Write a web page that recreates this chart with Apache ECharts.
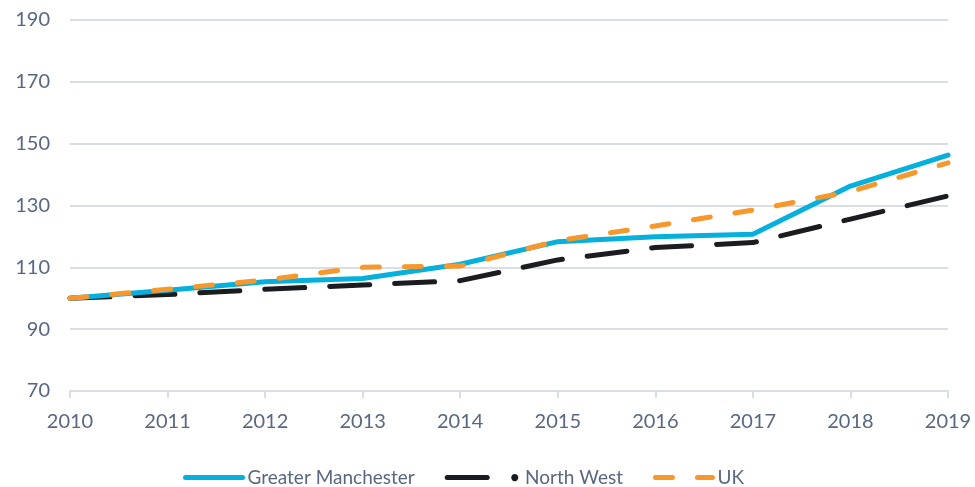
<!DOCTYPE html>
<html>
<head>
<meta charset="utf-8">
<script src="https://cdn.jsdelivr.net/npm/echarts@6/dist/echarts.min.js"></script>
<style>html,body{margin:0;padding:0;background:#fff;}#c{width:975px;height:487px;}</style>
</head>
<body>
<div id="c"></div>
<script>
var years = ['2010','2011','2012','2013','2014','2015','2016','2017','2018','2019'];
var greaterManchester = [100, 102.6, 105.3, 106.4, 111, 118.3, 119.9, 120.7, 136.3, 146.3];
var northWest = [100, 101.2, 102.9, 104.3, 105.7, 112.4, 116.4, 118, 125.6, 133.1];
var uk = [100, 102.9, 105.9, 110, 110.4, 118.6, 123.4, 128.5, 134.5, 143.8];

var textColor = '#596780';
var gridColor = '#d9dde6';
var fontFamily = 'Lato, "Open Sans", sans-serif';

var chart = echarts.init(document.getElementById('c'));
chart.setOption({
  animation: false,
  textStyle: {fontFamily: fontFamily},
  grid: {left: 70, right: 27, top: 20, bottom: 96},
  legend: {
    left: 178, top: 463,
    itemWidth: 57, itemHeight: 10, itemGap: 30,
    itemStyle: {opacity: 0},
    lineStyle: {width: 5, cap: 'round'},
    textStyle: {color: textColor, fontSize: 19, fontFamily: fontFamily,
      rich: {b: {color: '#1b1c20', fontSize: 19, fontFamily: fontFamily}}},
    formatter: function (n) { return n === 'North West' ? '{b|•} North West' : n; },
    data: ['Greater Manchester', 'North West', 'UK']
  },
  xAxis: {
    type: 'category', data: years, boundaryGap: false,
    axisLine: {lineStyle: {color: gridColor, width: 2}},
    axisTick: {show: true, length: 7, lineStyle: {color: gridColor, width: 2}},
    axisLabel: {color: textColor, fontSize: 20, margin: 21}
  },
  yAxis: {
    type: 'value', min: 70, max: 190, interval: 20,
    axisLine: {show: false}, axisTick: {show: false},
    splitLine: {lineStyle: {color: gridColor, width: 2}},
    axisLabel: {color: textColor, fontSize: 20, margin: 20}
  },
  series: [
    {name: 'Greater Manchester', type: 'line', data: greaterManchester, symbol: 'none', z: 3,
     itemStyle: {color: '#05b0dc'},
     lineStyle: {color: '#05b0dc', width: 5, cap: 'round', join: 'round'}},
    {name: 'North West', type: 'line', data: northWest, symbol: 'none', z: 2,
     itemStyle: {color: '#1b1c20'},
     lineStyle: {color: '#1b1c20', width: 5, type: [40, 25], cap: 'round', join: 'round'}},
    {name: 'UK', type: 'line', data: uk, symbol: 'none', z: 4,
     itemStyle: {color: '#f7982c'},
     lineStyle: {color: '#f7982c', width: 5, type: [17, 25], cap: 'round', join: 'round'}}
  ]
});
</script>
</body>
</html>
